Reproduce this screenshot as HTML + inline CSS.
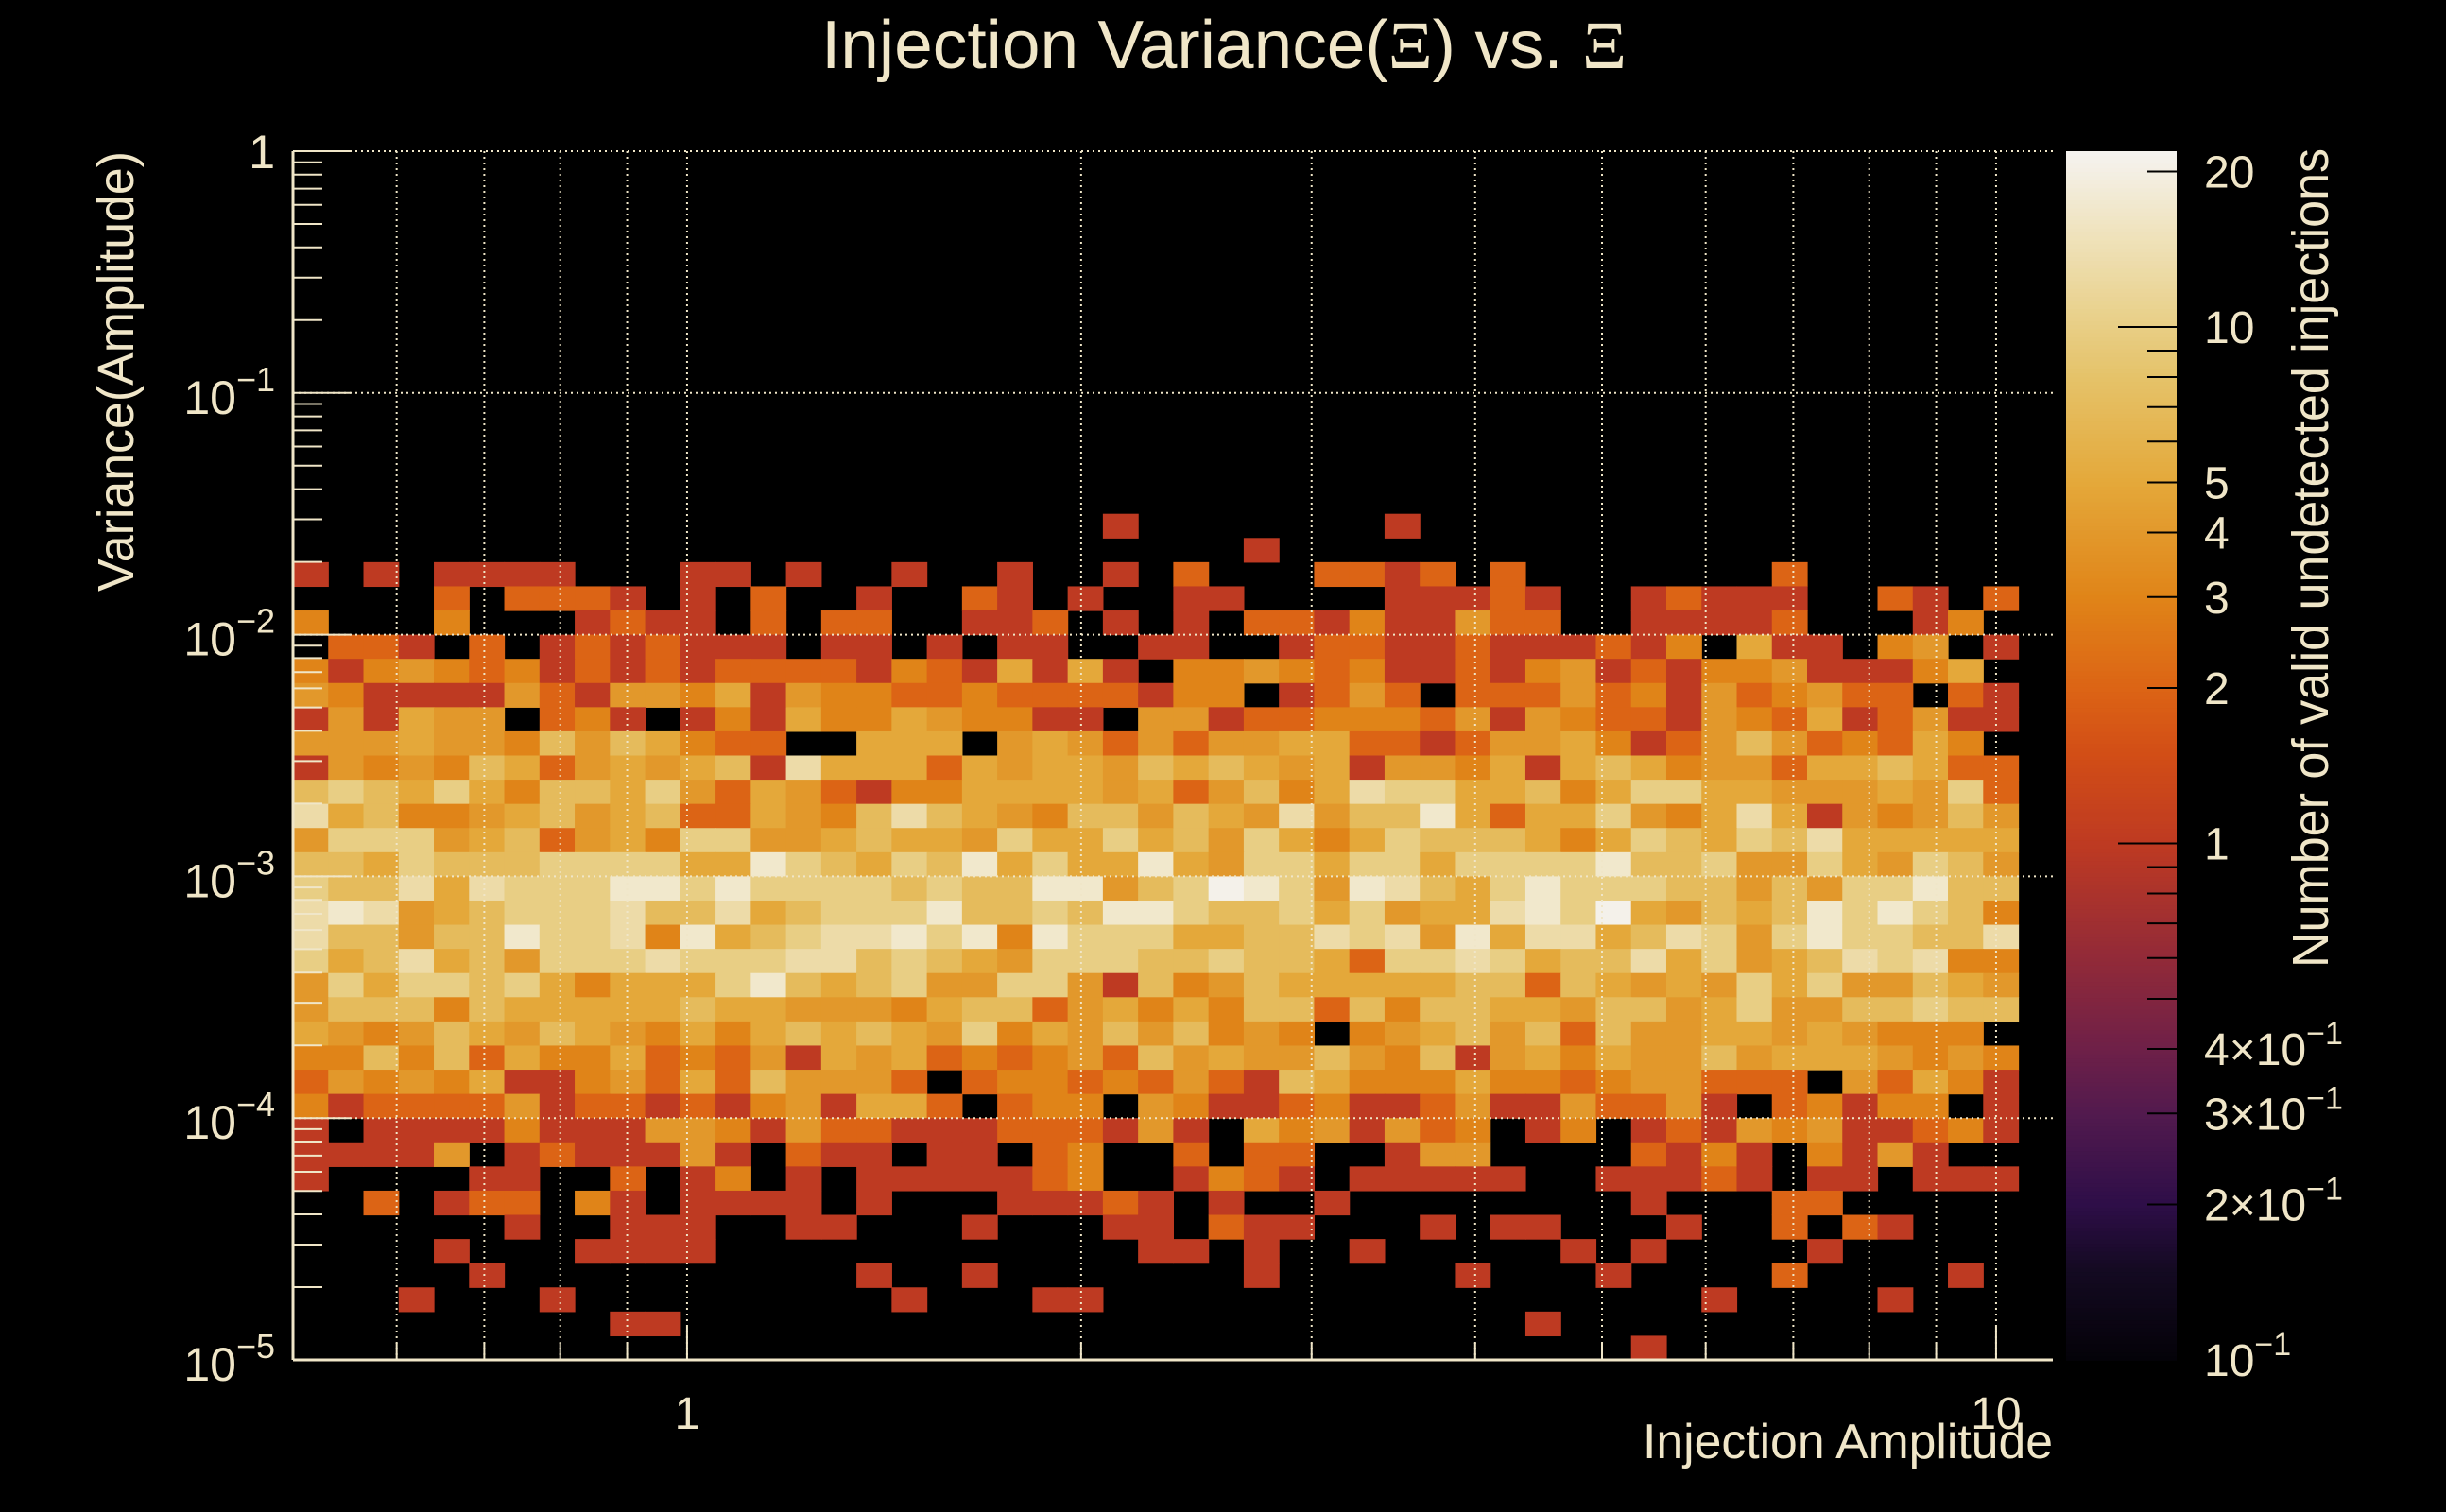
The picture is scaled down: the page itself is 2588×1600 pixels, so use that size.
<!DOCTYPE html>
<html>
<head>
<meta charset="utf-8">
<style>
html,body{margin:0;padding:0;background:#000;}
svg{display:block;}
text{font-family:"Liberation Sans",sans-serif;fill:#f0e6c8;}
</style>
</head>
<body>
<svg id="chart" width="2588" height="1600" viewBox="0 0 2588 1600" xmlns="http://www.w3.org/2000/svg">
<rect x="0" y="0" width="2588" height="1600" fill="#000"/>
<text x="869" y="72" font-size="72" textLength="852" lengthAdjust="spacingAndGlyphs">Injection Variance(<tspan font-family="Liberation Serif,serif">Ξ</tspan>) vs. <tspan font-family="Liberation Serif,serif">Ξ</tspan></text>
<g id="cells"></g>
<g id="grid"></g>
<g id="axes"></g>
<g id="cbar"></g>
<text transform="translate(141,160) rotate(-90)" text-anchor="end" font-size="54" textLength="466" lengthAdjust="spacingAndGlyphs">Variance(Amplitude)</text>
<text x="2172" y="1543" text-anchor="end" font-size="52" textLength="434" lengthAdjust="spacingAndGlyphs">Injection Amplitude</text>
<text transform="translate(2463,157) rotate(-90)" text-anchor="end" font-size="54" textLength="867" lengthAdjust="spacingAndGlyphs">Number of valid undetected injections</text>
</svg>
<script>
// ---- data ----
const xBinEdgesRange = [0.5, 10.4];   // amplitude bin range (log-spaced bins)
const yBinLow = -5;                    // log10 of lowest variance bin edge
const yBinsPerDecade = 10;
const xTickLabels = ["1", "10"];
const xTickValues = [1, 10];
const yTickValues = [1, 0.1, 0.01, 0.001, 0.0001, 0.00001];
const yTickExp = ["", "−1", "−2", "−3", "−4", "−5"];
const zTickValues = [20, 10, 5, 4, 3, 2, 1, 0.4, 0.3, 0.2, 0.1];
const zTickLabels = ["20", "10", "5", "4", "3", "2", "1", "4×10", "3×10", "2×10", "10"];
// counts[row] rows from top (highest variance bin) to bottom; 49 columns each
const counts = [
[0,0,0,0,0,0,0,0,0,0, 0,0,0,0,0,0,0,0,0,0, 0,0,0,1,0,0,0,0,0,0, 0,1,0,0,0,0,0,0,0,0, 0,0,0,0,0,0,0,0,0],
[0,0,0,0,0,0,0,0,0,0, 0,0,0,0,0,0,0,0,0,0, 0,0,0,0,0,0,0,1,0,0, 0,0,0,0,0,0,0,0,0,0, 0,0,0,0,0,0,0,0,0],
[1,0,1,0,1,1,1,1,0,0, 0,1,1,0,1,0,0,1,0,0, 1,0,0,1,0,2,0,0,0,2, 2,1,2,0,2,0,0,0,0,0, 0,0,2,0,0,0,0,0,0],
[0,0,0,0,2,0,2,2,2,1, 0,1,0,2,0,0,1,0,0,2, 1,0,1,0,0,1,1,0,0,0, 0,1,1,1,2,1,0,0,1,2, 1,1,1,0,0,2,1,0,2],
[3,0,0,0,3,0,0,0,1,2, 1,1,0,2,0,2,2,0,0,1, 1,2,0,1,0,1,0,2,2,1, 3,1,1,4,2,2,0,0,1,1, 1,1,2,0,0,0,1,3,0],
[0,2,2,1,0,2,0,1,2,1, 2,1,1,1,0,1,1,0,1,0, 1,1,0,0,1,1,0,0,1,2, 2,1,1,2,1,1,1,2,1,3, 0,5,1,1,0,3,4,0,1],
[3,1,3,4,3,2,3,1,2,1, 2,1,2,2,2,2,1,3,2,1, 5,1,5,1,0,3,3,4,3,2, 3,1,1,2,1,3,4,1,2,1, 3,3,4,1,1,1,3,5,0],
[4,3,1,1,1,1,4,2,1,4, 4,3,5,1,4,3,3,2,2,3, 2,2,2,2,1,3,3,0,1,2, 4,2,0,2,2,2,4,2,3,1, 4,2,3,4,2,2,0,2,1],
[1,4,1,5,4,4,0,2,3,1, 0,1,3,1,5,3,3,5,4,3, 3,1,1,0,4,4,1,2,2,3, 3,3,2,4,1,4,3,2,2,1, 4,3,2,5,1,2,4,1,1],
[4,4,4,5,4,4,3,7,4,7, 5,3,2,2,0,0,5,5,5,0, 4,5,4,2,4,2,4,4,5,5, 2,2,1,2,4,4,5,3,1,2, 4,7,4,2,3,2,5,3,0],
[1,4,3,4,3,7,5,2,4,5, 4,5,7,1,13,5,5,5,2,5, 4,5,5,4,7,5,7,5,4,5, 1,4,4,3,5,1,5,7,5,3, 4,4,2,5,5,7,5,2,2],
[7,10,7,5,10,5,3,7,7,5, 10,4,2,5,4,2,1,3,3,5, 5,5,5,4,5,2,4,7,3,5, 13,10,10,5,5,7,3,5,10,10, 5,5,4,4,4,5,4,10,2],
[13,5,7,3,3,4,5,7,4,5, 7,2,2,5,4,3,7,13,7,5, 4,3,7,7,4,7,5,4,13,4, 7,7,17,5,2,5,5,10,4,3, 5,13,5,1,4,3,4,7,4],
[4,10,10,10,4,5,7,2,4,5, 3,10,10,4,4,5,7,5,5,4, 10,5,5,10,5,7,4,10,5,3, 5,10,7,7,7,5,3,5,10,7, 5,10,7,13,5,5,5,5,5],
[7,7,5,10,7,7,7,10,10,10, 10,5,5,17,10,7,5,10,7,17, 5,10,5,5,17,5,4,10,10,5, 10,10,5,10,10,10,10,17,7,7, 10,4,4,10,5,4,10,7,4],
[10,7,7,13,5,13,10,10,10,17, 17,10,17,10,10,10,10,7,10,7, 7,17,17,4,7,10,21,17,10,4, 17,13,7,5,10,17,10,10,10,7, 7,4,7,4,10,10,17,7,7],
[13,17,13,4,5,7,10,10,10,13, 7,7,13,5,7,10,10,10,17,7, 7,10,7,17,17,10,7,7,10,5, 10,4,5,5,13,17,10,21,5,4, 7,5,7,17,10,17,10,7,3],
[13,7,7,4,7,7,17,10,10,13, 3,17,5,7,10,13,13,17,10,17, 3,17,10,10,10,5,5,7,7,13, 10,13,4,17,5,13,13,5,7,13, 10,4,10,17,10,10,7,7,13],
[10,5,7,13,5,7,4,10,10,10, 13,10,10,10,13,13,7,10,7,5, 4,10,10,10,7,7,10,7,7,5, 2,10,10,13,10,5,7,7,13,5, 10,4,5,7,13,10,13,3,3],
[4,10,5,10,10,7,10,5,3,5, 5,5,10,17,7,5,7,10,4,4, 10,10,4,1,7,3,4,7,5,5, 5,5,5,7,7,2,7,5,4,5, 4,10,5,10,4,4,7,5,4],
[4,7,7,7,3,7,5,5,5,5, 5,7,5,5,4,4,4,3,5,7, 7,2,4,5,3,5,3,7,7,2, 7,3,7,7,5,5,4,7,7,4, 5,10,4,4,7,7,10,7,7],
[5,4,3,4,7,5,4,7,5,4, 3,5,3,5,7,5,7,5,4,10, 3,5,4,7,4,7,3,4,3,0, 3,4,5,7,4,7,2,7,4,4, 5,5,4,5,4,3,3,3,0],
[3,3,7,3,7,2,5,3,3,5, 2,3,2,4,1,5,4,5,2,3, 2,3,4,2,7,4,5,4,4,7, 4,3,7,1,4,5,3,5,4,4, 7,4,5,5,5,4,3,4,3],
[2,4,3,4,3,5,1,1,3,4, 2,5,2,7,4,4,4,2,0,2, 3,3,2,3,2,4,2,1,7,5, 3,3,3,5,3,3,2,3,4,4, 2,2,2,0,4,2,5,3,1],
[3,1,2,2,2,2,4,1,2,2, 1,2,1,3,4,1,5,5,2,0, 2,3,3,0,4,3,1,1,2,3, 1,1,2,4,1,1,4,2,2,4, 1,0,2,3,1,3,3,0,1],
[1,0,1,1,1,1,3,1,1,1, 4,4,3,1,4,2,2,1,1,1, 2,2,2,1,4,1,0,5,3,4, 1,4,2,3,0,1,3,0,1,2, 1,4,3,4,1,1,2,3,1],
[1,1,1,1,4,0,1,2,1,1, 1,4,1,0,2,1,1,0,1,1, 0,2,3,0,0,2,0,2,2,0, 0,1,4,4,0,0,0,0,2,1, 3,1,0,3,1,4,1,0,0],
[1,0,0,0,0,1,1,0,0,2, 0,1,3,0,1,0,1,1,1,1, 1,2,3,0,0,1,3,2,1,0, 1,1,1,1,1,0,0,1,1,1, 2,1,0,1,1,0,1,1,1],
[0,0,2,0,1,2,2,0,3,1, 0,1,1,1,1,0,1,0,0,0, 1,1,1,2,1,0,1,0,0,1, 0,0,0,0,0,0,0,0,1,0, 0,0,2,2,0,0,0,0,0],
[0,0,0,0,0,0,1,0,0,1, 1,1,0,0,1,1,0,0,0,1, 0,0,0,1,1,0,2,1,1,0, 0,0,1,0,1,1,0,0,0,1, 0,0,2,0,2,1,0,0,0],
[0,0,0,0,1,0,0,0,1,1, 1,1,0,0,0,0,0,0,0,0, 0,0,0,0,1,1,0,1,0,0, 1,0,0,0,0,0,1,0,1,0, 0,0,0,1,0,0,0,0,0],
[0,0,0,0,0,1,0,0,0,0, 0,0,0,0,0,0,1,0,0,1, 0,0,0,0,0,0,0,1,0,0, 0,0,0,1,0,0,0,1,0,0, 0,0,2,0,0,0,0,1,0],
[0,0,0,1,0,0,0,1,0,0, 0,0,0,0,0,0,0,1,0,0, 0,1,1,0,0,0,0,0,0,0, 0,0,0,0,0,0,0,0,0,0, 1,0,0,0,0,1,0,0,0],
[0,0,0,0,0,0,0,0,0,1, 1,0,0,0,0,0,0,0,0,0, 0,0,0,0,0,0,0,0,0,0, 0,0,0,0,0,1,0,0,0,0, 0,0,0,0,0,0,0,0,0],
[0,0,0,0,0,0,0,0,0,0, 0,0,0,0,0,0,0,0,0,0, 0,0,0,0,0,0,0,0,0,0, 0,0,0,0,0,0,0,0,1,0, 0,0,0,0,0,0,0,0,0]
];

// ---- axes ----
const PX = {l:310, r:2172, t:160, b:1439};
const XMIN = 0.5, XMAX = 11.05, YMINL = -5, YMAXL = 0, ZMINL = -1, ZMAXL = Math.log10(21.9);
function xPix(v){ return PX.l + (Math.log10(v)-Math.log10(XMIN))/(Math.log10(XMAX)-Math.log10(XMIN))*(PX.r-PX.l); }
function yPix(v){ return PX.b - (Math.log10(v)-YMINL)/(YMAXL-YMINL)*(PX.b-PX.t); }
const CB = {l:2186, r:2303, t:160, b:1439};
function zPix(v){ return CB.b - (Math.log10(v)-ZMINL)/(ZMAXL-ZMINL)*(CB.b-CB.t); }
const stops = [[0,[4,2,8]],[0.075,[20,10,34]],[0.129,[46,14,72]],[0.204,[82,26,78]],[0.257,[110,32,72]],[0.333,[146,42,56]],[0.427,[190,58,34]],[0.503,[210,78,22]],[0.556,[220,100,21]],[0.631,[224,132,24]],[0.726,[228,168,58]],[0.813,[229,194,105]],[0.854,[232,206,132]],[0.93,[239,226,187]],[1,[245,243,240]]];
function color(v){
  let t = (Math.log10(v)-ZMINL)/(ZMAXL-ZMINL); t=Math.max(0,Math.min(1,t));
  for(let i=1;i<stops.length;i++){ if(t<=stops[i][0]){ const a=stops[i-1],b=stops[i]; const f=(t-a[0])/(b[0]-a[0]);
    const c=a[1].map((x,k)=>Math.round(x+(b[1][k]-x)*f)); return `rgb(${c[0]},${c[1]},${c[2]})`; } }
  return 'rgb(245,243,240)';
}
const NS="http://www.w3.org/2000/svg";
function mk(tag, attrs, parent){ const e=document.createElementNS(NS,tag); for(const k in attrs) e.setAttribute(k,attrs[k]); parent.appendChild(e); return e; }

// cells
const cellsG=document.getElementById('cells');
const nRows=counts.length, nCols=counts[0].length;
const lx0=Math.log10(xBinEdgesRange[0]), lx1=Math.log10(xBinEdgesRange[1]);
for(let r=0;r<nRows;r++){
  const rowIdx = nRows-1-r;
  const yLo = Math.pow(10, yBinLow + rowIdx/yBinsPerDecade), yHi = Math.pow(10, yBinLow + (rowIdx+1)/yBinsPerDecade);
  for(let c=0;c<nCols;c++){
    const v=counts[r][c]; if(!v) continue;
    const xa=Math.pow(10, lx0+(lx1-lx0)*c/nCols), xb=Math.pow(10, lx0+(lx1-lx0)*(c+1)/nCols);
    const x1=xPix(xa), x2=xPix(xb), y1=yPix(yHi), y2=yPix(yLo);
    const el=mk('rect',{x:x1.toFixed(2),y:y1.toFixed(2),width:(x2-x1+0.6).toFixed(2),height:(y2-y1+0.6).toFixed(2),fill:color(v)},cellsG);
    
    
  }
}
// grid
const gridG=document.getElementById('grid');
const xGridVals=[0.6,0.7,0.8,0.9,1,2,3,4,5,6,7,8,9,10];
xGridVals.forEach(v=>{ const x=xPix(v);
  const el=mk('line',{x1:x,x2:x,y1:PX.t,y2:PX.b,stroke:'#f0e6c8','stroke-width':2,'stroke-dasharray':'2 4'},gridG);
    });
yTickValues.forEach(v=>{ const y=yPix(v);
  const el=mk('line',{x1:PX.l,x2:PX.r,y1:y,y2:y,stroke:'#f0e6c8','stroke-width':2,'stroke-dasharray':'2 4'},gridG);
    });
// axes
const axG=document.getElementById('axes');
let ax=mk('line',{x1:PX.l,x2:PX.r,y1:PX.b,y2:PX.b,stroke:'#f0e6c8','stroke-width':3},axG);
 
ax=mk('line',{x1:PX.l,x2:PX.l,y1:PX.t,y2:PX.b,stroke:'#f0e6c8','stroke-width':3},axG);
 
xGridVals.forEach(v=>{ const x=xPix(v); const major=(v===1||v===10);
  const el=mk('line',{x1:x,x2:x,y1:PX.b,y2:PX.b-(major?35:18),stroke:'#f0e6c8','stroke-width':2},axG);
    });
xTickValues.forEach((v,i)=>{ const el=mk('text',{x:xPix(v),y:1512,'text-anchor':'middle','font-size':48},axG); el.textContent=xTickLabels[i];
    });
for(let d=-5; d<0; d++){ for(let m=1;m<=9;m++){ const v=m*Math.pow(10,d); const y=yPix(v);
  const el=mk('line',{x1:PX.l,x2:PX.l+(m===1?61:31),y1:y,y2:y,stroke:'#f0e6c8','stroke-width':2},axG);
    } }
ax=mk('line',{x1:PX.l,x2:PX.l+61,y1:yPix(1),y2:yPix(1),stroke:'#f0e6c8','stroke-width':2},axG);
 
yTickValues.forEach((v,i)=>{ const y=yPix(v);
  const el=mk('text',{x:291,y:y+22,'text-anchor':'end','font-size':50},axG);
   
  if(yTickExp[i]===''){ el.setAttribute('y',y+18); el.textContent='1'; }
  else { el.textContent='10'; const s=document.createElementNS(NS,'tspan'); s.setAttribute('font-size','36'); s.setAttribute('dy','-24'); s.textContent=yTickExp[i]; el.appendChild(s); }
});
// colorbar
const cbG=document.getElementById('cbar');
const N=300;
for(let i=0;i<N;i++){ const l0=ZMINL+(ZMAXL-ZMINL)*i/N, l1=ZMINL+(ZMAXL-ZMINL)*(i+1)/N;
  const y1=zPix(Math.pow(10,l1)), y2=zPix(Math.pow(10,l0));
  const el=mk('rect',{x:CB.l,y:y1,width:CB.r-CB.l,height:y2-y1+0.8,fill:color(Math.pow(10,(l0+l1)/2))},cbG);
    }
for(let d=-1; d<=1; d++){ for(let m=1;m<=9;m++){ const v=m*Math.pow(10,d); if(v<=0.1||v>21.9) continue; const y=zPix(v);
  const el=mk('line',{x1:CB.r,x2:CB.r-(m===1?62:31),y1:y,y2:y,stroke:'#000','stroke-width':2},cbG);
    } }
zTickValues.forEach((v,i)=>{ const y=zPix(v);
  const el=mk('text',{x:2332,y:y+17,'font-size':48},cbG);
   
  el.textContent=zTickLabels[i];
  if(v<1){ const s=document.createElementNS(NS,'tspan'); s.setAttribute('font-size','34'); s.setAttribute('dy','-22'); s.textContent='−1'; el.appendChild(s); }
});
</script>
</body>
</html>
